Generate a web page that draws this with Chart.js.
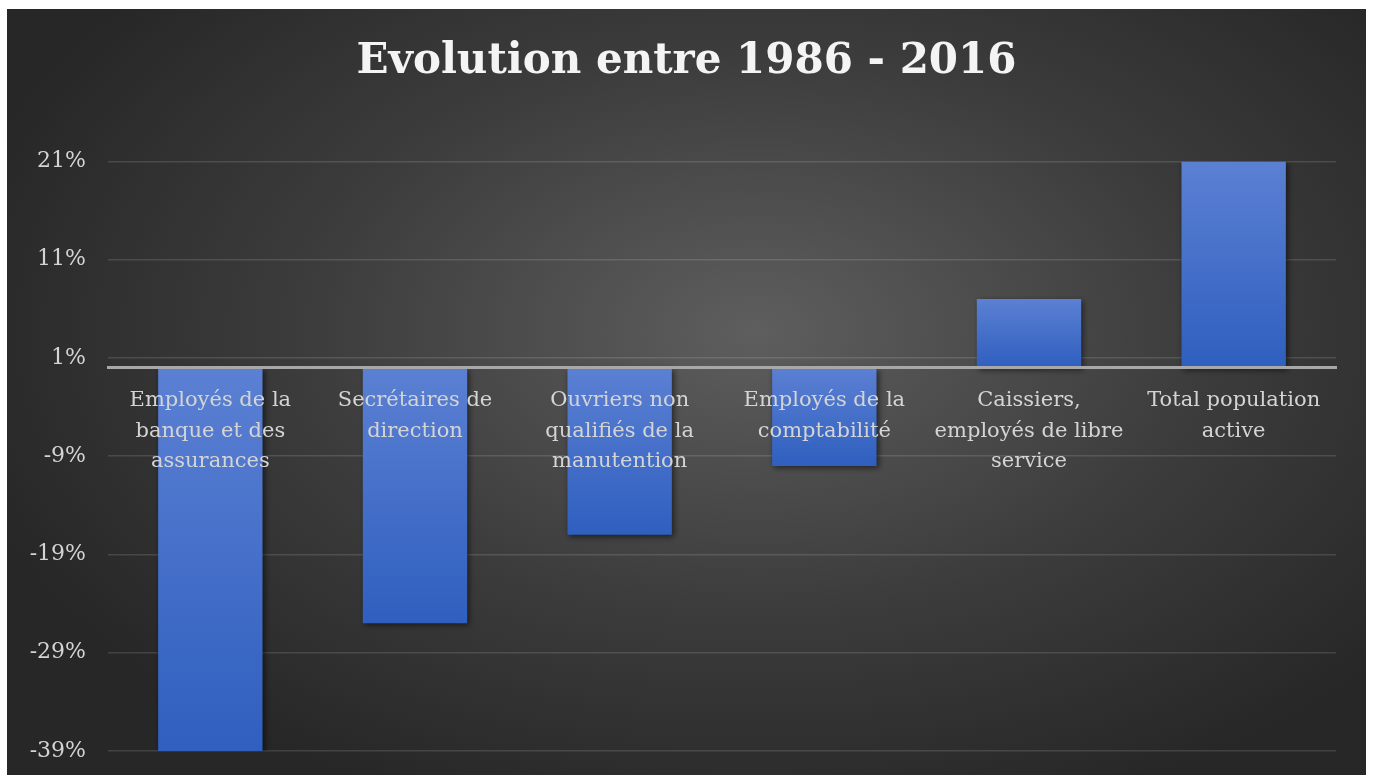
<!DOCTYPE html>
<html>
<head>
<meta charset="utf-8">
<script src="https://cdn.jsdelivr.net/npm/chart.js@4/dist/chart.umd.min.js"></script>
<style>
  html, body { margin: 0; padding: 0; background: #ffffff; }
  #wrap { position: absolute; left: 7px; top: 9px; width: 1359px; height: 766px; }
</style>
</head>
<body>
<div id="wrap"><canvas id="evolutionChart"></canvas></div>
<script>
// categories (multi-line, as wrapped on the original axis)
const categories = [
    ["Employés de la", "banque et des", "assurances"],
    ["Secrétaires de", "direction"],
    ["Ouvriers non", "qualifiés de la", "manutention"],
    ["Employés de la", "comptabilité"],
    ["Caissiers,", "employés de libre", "service"],
    ["Total population", "active"]
];

// evolution in percent
const evolution = [-39, -26, -17, -10, 7, 21];

// y axis ticks as shown
const axisMin = -39;
const axisMax = 21;
const axisStep = 10;

const titleText = "Evolution entre 1986 - 2016";

const backgroundPlugin = {
    id: "darkBackground",
    beforeDraw(chart) {
        const c = chart.ctx;
        const w = chart.width, h = chart.height;
        c.save();
        c.fillStyle = "#272727";
        c.fillRect(0, 0, w, h);
        c.translate(w * 0.55, h * 0.42);
        c.scale(1, 0.62);
        const g = c.createRadialGradient(0, 0, 0, 0, 0, 820);
        g.addColorStop(0, "#5e5e5e");
        g.addColorStop(0.55, "#3c3c3c");
        g.addColorStop(1, "#272727");
        c.fillStyle = g;
        c.fillRect(-w, -h * 2, w * 2, h * 4);
        c.restore();
    },
    beforeDatasetsDraw(chart) {
        const c = chart.ctx;
        c.save();
        c.shadowColor = "rgba(0,0,0,0.55)";
        c.shadowBlur = 6;
        c.shadowOffsetX = 2;
        c.shadowOffsetY = 2;
    },
    afterDatasetsDraw(chart) {
        chart.ctx.restore();
    }
};

function barGradient(context) {
    const chart = context.chart;
    const y = chart.scales.y;
    if (!chart.chartArea || !y) return "#4470c8";
    const v = context.raw;
    const top = y.getPixelForValue(Math.max(v, 0));
    const bottom = y.getPixelForValue(Math.min(v, 0));
    if (!isFinite(top) || !isFinite(bottom) || top === bottom) return "#4470c8";
    const g = chart.ctx.createLinearGradient(0, top, 0, bottom);
    g.addColorStop(0, "#5b80d3");
    g.addColorStop(1, "#2f5fbf");
    return g;
}

const ctx = document.getElementById("evolutionChart");

new Chart(ctx, {
    type: "bar",
    data: {
        labels: categories,
        datasets: [
            {
                label: "Evolution",
                data: evolution,
                backgroundColor: barGradient,
                borderWidth: 0,
                barPercentage: 0.51,
                categoryPercentage: 1
            }
        ]
    },
    options: {
        responsive: true,
        maintainAspectRatio: false,
        animation: false,
        layout: {
            padding: { left: 0, right: 0, top: 0, bottom: 24 }
        },
        plugins: {
            legend: { display: false },
            tooltip: { enabled: false },
            title: {
                display: true,
                text: titleText,
                color: "#f4f4f4",
                font: { family: "'DejaVu Serif', serif", size: 42, weight: "bold", lineHeight: 1.2 },
                padding: { top: 28, bottom: 74 }
            }
        },
        scales: {
            x: {
                position: { y: 0 },
                grid: { display: false, drawTicks: false },
                border: { display: true, color: "#a8a8a8", width: 3, z: 1 },
                ticks: {
                    z: 1,
                    color: "#d4d4d4",
                    font: { family: "'DejaVu Serif', serif", size: 21, lineHeight: 1.45 },
                    padding: 18,
                    maxRotation: 0,
                    autoSkip: false
                }
            },
            y: {
                min: axisMin,
                max: axisMax,
                afterFit(scale) {
                    scale.width = 101;
                    scale.paddingTop = 0;
                    scale.paddingBottom = 0;
                },
                grid: {
                    color: "rgba(255,255,255,0.13)",
                    lineWidth: 1.5,
                    drawTicks: false
                },
                border: { display: false },
                ticks: {
                    stepSize: axisStep,
                    color: "#d4d4d4",
                    padding: 22,
                    font: { family: "'DejaVu Serif', serif", size: 22 },
                    callback: function (value) { return value + "%"; }
                }
            },
            // empty right-hand axis, only keeps the right margin so the title stays centred
            yRight: {
                type: "linear",
                position: "right",
                min: axisMin,
                max: axisMax,
                afterFit(scale) {
                    scale.width = 30;
                    scale.paddingTop = 0;
                    scale.paddingBottom = 0;
                },
                grid: { display: false, drawTicks: false },
                border: { display: false },
                ticks: { display: false }
            }
        }
    },
    plugins: [backgroundPlugin]
});
</script>
</body>
</html>
